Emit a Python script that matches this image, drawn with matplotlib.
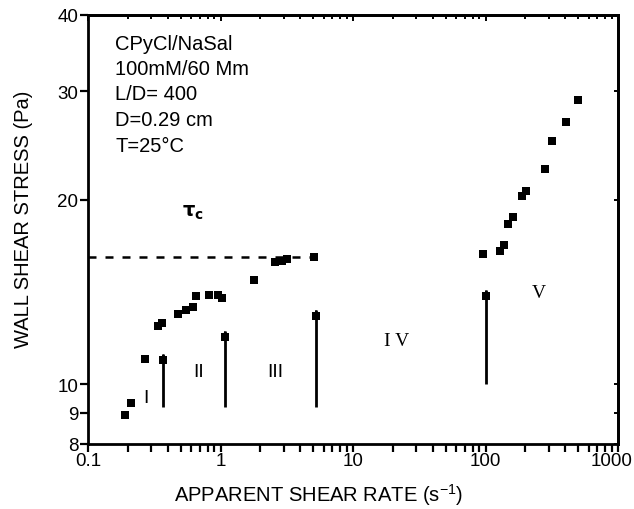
import matplotlib
matplotlib.use("Agg")
import matplotlib.pyplot as plt
from matplotlib.ticker import FixedLocator, NullFormatter, FixedFormatter

plt.rcParams['font.family'] = ['Liberation Sans', 'DejaVu Sans']
plt.rcParams['mathtext.fontset'] = 'custom'
plt.rcParams['mathtext.rm'] = 'Liberation Sans'
plt.rcParams['mathtext.it'] = 'Liberation Sans:italic'

# ---- data ----
shear_rate = [0.19, 0.21, 0.27, 0.34, 0.36, 0.48, 0.55, 0.62, 0.65, 0.82, 0.95, 1.03,
              1.79, 2.6, 2.9, 3.2, 5.1,
              96, 128, 137, 148, 160, 187, 201, 280, 320, 408, 502]
wall_stress = [8.93, 9.33, 11.0, 12.44, 12.59, 13.04, 13.24, 13.37, 13.92, 14.0, 14.0, 13.82,
               14.78, 15.85, 15.9, 15.98, 16.14,
               16.3, 16.48, 16.87, 18.26, 18.72, 20.25, 20.65, 22.46, 24.88, 26.75, 29.05]

# arrow markers: shear rate, stress at marker, arrow base, arrow tip
arrow_rate = [0.37, 1.08, 5.26, 101]
arrow_stress = [10.97, 11.96, 12.91, 13.95]
arrow_base = [9.19, 9.19, 9.19, 10.02]
arrow_tip = [11.39, 12.42, 13.44, 14.48]

critical_stress = 16.14
critical_rate_end = 5.1

region_labels = ['I', 'II', 'III', 'I V', 'V']
region_x = [0.276, 0.685, 2.60, 21.5, 252]
region_y = [9.54, 10.51, 10.51, 11.8, 14.13]
region_font = ['Liberation Sans', 'Liberation Sans', 'Liberation Sans',
               'Liberation Serif', 'Liberation Serif']

x_ticks = [0.1, 1, 10, 100, 1000]
x_ticklabels = ['0.1', '1', '10', '100', '1000']
y_ticks = [8, 9, 10, 20, 30, 40]
y_ticklabels = ['8', '9', '10', '20', '30', '40']

info_lines = ['CPyCl/NaSal', '100mM/60 Mm', 'L/D= 400', 'D=0.29 cm', 'T=25\u00b0C']

# ---- figure ----
W, H = 634, 510
fig = plt.figure(figsize=(W/100, H/100), dpi=100)
ax = fig.add_axes([88/W, 1-445/H, (618-88)/W, (445-15.7)/H])
ax.set_xscale('log')
ax.set_yscale('log')
ax.set_xlim(0.1, 1000)
ax.set_ylim(8, 40)

for s in ax.spines.values():
    s.set_linewidth(2.0)

ax.plot(shear_rate, wall_stress, 's', color='black', markersize=5.3, markeredgewidth=0)

for xr, ys, yb, yt in zip(arrow_rate, arrow_stress, arrow_base, arrow_tip):
    ax.plot([xr, xr], [yb, yt * 0.985], color='black', lw=2.0, solid_capstyle='butt')
    ax.annotate('', xy=(xr, yt), xytext=(xr, yt * 0.96),
                arrowprops=dict(arrowstyle='-|>,head_length=0.5,head_width=0.15',
                                color='black', lw=1.4))
    ax.plot([xr], [ys], 's', color='black', markersize=5.3, markeredgewidth=0)

ax.plot([0.1, critical_rate_end], [critical_stress, critical_stress], color='black',
        lw=1.8, dashes=(3.2, 3.6))

for lab, xx, yy, fam in zip(region_labels, region_x, region_y, region_font):
    ax.text(xx, yy, lab, fontsize=14, ha='center', va='center', family=fam)

ax.text(0.617, 19.09, r'$\mathbf{\tau_c}$', fontsize=14, ha='center', va='center')

for i, line in enumerate(info_lines):
    fig.text(115/W, 1 - (44 + 25.5*i)/H, line, fontsize=14.5, ha='left', va='center')

ax.xaxis.set_major_locator(FixedLocator(x_ticks))
ax.xaxis.set_major_formatter(FixedFormatter(x_ticklabels[:-1] + ['']))
minor_x = [m*10**e for e in range(-1, 3) for m in range(2, 10)]
ax.xaxis.set_minor_locator(FixedLocator(minor_x))
ax.xaxis.set_minor_formatter(NullFormatter())

ax.yaxis.set_major_locator(FixedLocator(y_ticks))
ax.yaxis.set_major_formatter(FixedFormatter(y_ticklabels))
ax.yaxis.set_minor_locator(FixedLocator([]))

ax.tick_params(axis='x', which='both', direction='out', bottom=True, top=False,
               length=6, width=1.6, labelsize=13.5, pad=0)
ax.tick_params(axis='y', which='major', direction='out', left=True, right=False,
               length=6, width=1.6, labelsize=13.5, pad=1)

# last x tick label nudged left so it stays inside the figure
ax.annotate(x_ticklabels[-1], xy=(x_ticks[-1], 0), xycoords=('data', 'axes fraction'),
            xytext=(-6, -8), textcoords='offset pixels', ha='center', va='top',
            fontsize=13.5)

# top inward ticks and right inward ticks
axt = ax.secondary_xaxis('top')
axt.set_xticks(x_ticks)
axt.xaxis.set_minor_locator(FixedLocator(minor_x))
axt.tick_params(which='major', direction='in', length=4, width=1.4, labeltop=False)
axt.tick_params(which='minor', direction='in', length=3, width=1.4, labeltop=False)
axt.spines['top'].set_linewidth(2.0)

axr = ax.secondary_yaxis('right')
axr.set_yticks(y_ticks)
axr.yaxis.set_minor_locator(FixedLocator([]))
axr.tick_params(which='both', direction='in', length=3, width=1.4, labelright=False)
axr.spines['right'].set_linewidth(2.0)

ax.set_xlabel('APPARENT SHEAR RATE (s$^{-1}$)', fontsize=14.5, va='center')
ax.xaxis.set_label_coords((319-88)/530, (445-495.5)/429.3)
ax.set_ylabel('WALL SHEAR STRESS (Pa)', fontsize=14.5, va='center')
ax.yaxis.set_label_coords((24-88)/530, (445-219)/429.3)

fig.savefig('out.png', dpi=100)
